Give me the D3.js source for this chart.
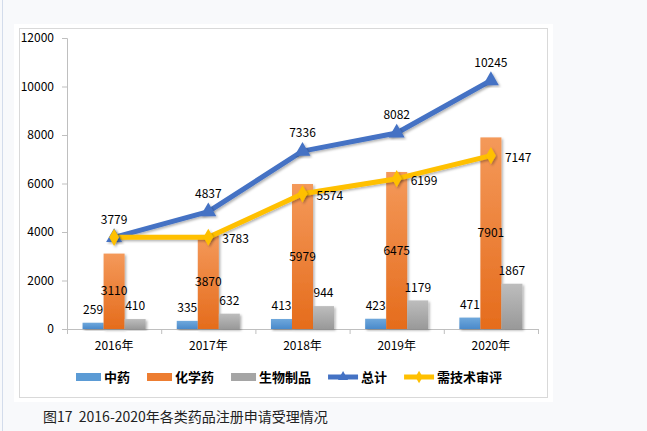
<!DOCTYPE html>
<html>
<head>
<meta charset="utf-8">
<script src="https://cdn.jsdelivr.net/npm/d3@7"></script>
<style>
  html, body { margin: 0; padding: 0; background: #f8f9fb; }
  svg { display: block; }
</style>
</head>
<body>
<svg id="chart" width="647" height="431"></svg>
<script>
const years = ['2016年', '2017年', '2018年', '2019年', '2020年'];
const barSeries = ['中药', '化学药', '生物制品'];
const tcm = [259, 335, 413, 423, 471];
const chem = [3110, 3870, 5979, 6475, 7901];
const bio = [410, 632, 944, 1179, 1867];
const total = [3779, 4837, 7336, 8082, 10245];
const review = [3779, 3783, 5574, 6199, 7147];
const reviewShown = [false, true, true, true, true];
const yTicks = [0, 2000, 4000, 6000, 8000, 10000, 12000];
const caption = '图17  2016-2020年各类药品注册申请受理情况';

const font = '"Noto Sans CJK SC", "Noto Sans", sans-serif';
const svg = d3.select('#chart');

// page frame
svg.append('rect').attr('x', 0).attr('y', 0).attr('width', 647).attr('height', 431).attr('fill', '#f8f9fb');
svg.append('line').attr('x1', 2.5).attr('x2', 2.5).attr('y1', 0).attr('y2', 431)
  .attr('stroke', '#d3dceb').attr('stroke-width', 1);
svg.append('rect').attr('x', 14).attr('y', 24).attr('width', 539).attr('height', 378).attr('fill', '#fff');
svg.append('rect').attr('x', 19.5).attr('y', 28.5).attr('width', 528).attr('height', 369)
  .attr('fill', '#fff').attr('stroke', '#d9d9d9');

const defs = svg.append('defs');
const grads = {
  '中药': ['#6fa8dc', '#4a8acb'],
  '化学药': ['#f4995a', '#e56c1c'],
  '生物制品': ['#bdbdbd', '#999999']
};
Object.entries(grads).forEach(([k, c], i) => {
  const g = defs.append('linearGradient').attr('id', 'g' + i)
    .attr('x1', 0).attr('y1', 0).attr('x2', 0).attr('y2', 1);
  g.append('stop').attr('offset', '0%').attr('stop-color', c[0]);
  g.append('stop').attr('offset', '100%').attr('stop-color', c[1]);
});
const sh = defs.append('filter').attr('id', 'shadow').attr('x', '-20%').attr('y', '-20%').attr('width', '140%').attr('height', '140%');
sh.append('feDropShadow').attr('dx', 1.5).attr('dy', 1.5).attr('stdDeviation', 1.2)
  .attr('flood-color', '#000').attr('flood-opacity', 0.3);

const x = d3.scaleBand().domain(years).range([67, 538]);
const xi = d3.scaleBand().domain(barSeries).range([0, x.bandwidth()]).paddingOuter(0.74);
const y = d3.scaleLinear().domain([0, 12000]).range([329, 38]);

// axes
const yAxis = svg.append('g').attr('transform', 'translate(67,0)')
  .call(d3.axisLeft(y).tickValues(yTicks).tickSize(5).tickPadding(8).tickFormat(d3.format('d')));
const xAxis = svg.append('g').attr('transform', 'translate(0,329)')
  .call(d3.axisBottom(x).tickSize(0).tickPadding(12));
[yAxis, xAxis].forEach(a => {
  a.select('.domain').attr('stroke', '#bfbfbf');
  a.selectAll('.tick line').attr('stroke', '#bfbfbf');
  a.selectAll('text').attr('fill', '#000').style('font-family', font).style('font-size', '12px');
});
xAxis.selectAll('.bound').data(x.domain().map(d => x(d)).concat([538]))
  .enter().append('line').attr('class', 'bound')
  .attr('x1', d => d + 0.5).attr('x2', d => d + 0.5).attr('y1', 0).attr('y2', 5)
  .attr('stroke', '#bfbfbf');

// bars
const barData = [tcm, chem, bio];
barSeries.forEach((s, si) => {
  const g = svg.append('g');
  g.selectAll('rect').data(barData[si]).enter().append('rect')
    .attr('x', (d, i) => x(years[i]) + xi(s))
    .attr('y', d => y(d))
    .attr('width', xi.bandwidth())
    .attr('height', d => y(0) - y(d))
    .attr('fill', 'url(#g' + si + ')')
    .attr('filter', 'url(#shadow)');
});

// bar labels
barSeries.forEach((s, si) => {
  svg.append('g').selectAll('text').data(barData[si]).enter().append('text')
    .attr('x', (d, i) => x(years[i]) + xi(s) + xi.bandwidth() / 2)
    .attr('y', d => si === 1 ? (y(d) + y(0)) / 2 : y(d) - 13)
    .attr('dy', '0.35em')
    .attr('text-anchor', 'middle')
    .style('font-family', font).style('font-size', '12px').attr('fill', '#000')
    .text(d => d);
});

// lines
const cx = i => x(years[i]) + x.bandwidth() / 2;
const line = d3.line().x((d, i) => cx(i)).y(d => y(d));
svg.append('path').datum(total).attr('d', line)
  .attr('fill', 'none').attr('stroke', '#4472c4').attr('stroke-width', 5)
  .attr('stroke-linejoin', 'round').attr('filter', 'url(#shadow)');
svg.append('path').datum(review).attr('d', line)
  .attr('fill', 'none').attr('stroke', '#ffc000').attr('stroke-width', 5)
  .attr('stroke-linejoin', 'round').attr('filter', 'url(#shadow)');

const tri = d3.symbol().type(d3.symbolTriangle).size(110);
const dia = d3.symbol().type(d3.symbolDiamond).size(85);
svg.append('g').selectAll('path').data(total).enter().append('path')
  .attr('d', tri).attr('transform', (d, i) => `translate(${cx(i)},${y(d)})`)
  .attr('fill', '#4472c4').attr('filter', 'url(#shadow)');
svg.append('g').selectAll('path').data(review).enter().append('path')
  .attr('d', dia).attr('transform', (d, i) => `translate(${cx(i)},${y(d)})`)
  .attr('fill', '#ffc000').attr('filter', 'url(#shadow)');

svg.append('g').selectAll('text').data(total).enter().append('text')
  .attr('x', (d, i) => cx(i)).attr('y', d => y(d) - 18).attr('dy', '0.35em')
  .attr('text-anchor', 'middle')
  .style('font-family', font).style('font-size', '12px').attr('fill', '#000')
  .text(d => d);
svg.append('g').selectAll('text').data(review.filter((d, i) => reviewShown[i]))
  .enter().append('text')
  .attr('x', (d, i) => cx(review.indexOf(d)) + 14).attr('y', d => y(d) + 2).attr('dy', '0.35em')
  .attr('text-anchor', 'start')
  .style('font-family', font).style('font-size', '12px').attr('fill', '#000')
  .text(d => d);

// legend
const legendItems = [
  { name: '中药', type: 'bar', color: '#5b9bd5' },
  { name: '化学药', type: 'bar', color: '#ed7d31' },
  { name: '生物制品', type: 'bar', color: '#a5a5a5' },
  { name: '总计', type: 'line', color: '#4472c4', sym: d3.symbolTriangle },
  { name: '需技术审评', type: 'line', color: '#ffc000', sym: d3.symbolDiamond }
];
const legend = svg.append('g').attr('transform', 'translate(0,377)');
let lx = 76;
legendItems.forEach(it => {
  const g = legend.append('g').attr('transform', `translate(${lx},0)`);
  let w;
  if (it.type === 'bar') {
    g.append('rect').attr('x', 0).attr('y', -4).attr('width', 25).attr('height', 8).attr('fill', it.color);
    w = 25;
  } else {
    g.append('line').attr('x1', 0).attr('x2', 30).attr('y1', 0).attr('y2', 0)
      .attr('stroke', it.color).attr('stroke-width', 5);
    g.append('path').attr('d', d3.symbol().type(it.sym).size(45))
      .attr('transform', 'translate(15,0)').attr('fill', it.color);
    w = 30;
  }
  const t = g.append('text').attr('x', w + 3).attr('y', 0).attr('dy', '0.35em')
    .style('font-family', font).style('font-size', '13px').style('font-weight', 'bold')
    .attr('fill', '#000').text(it.name);
  lx += w + 3 + t.node().getComputedTextLength() + 17;
});

// caption
svg.append('text').attr('x', 43).attr('y', 417).attr('dy', '0.35em')
  .style('font-family', font).style('font-size', '14px').attr('fill', '#222')
  .attr('xml:space', 'preserve').style('white-space', 'pre')
  .text(caption);
</script>
</body>
</html>
